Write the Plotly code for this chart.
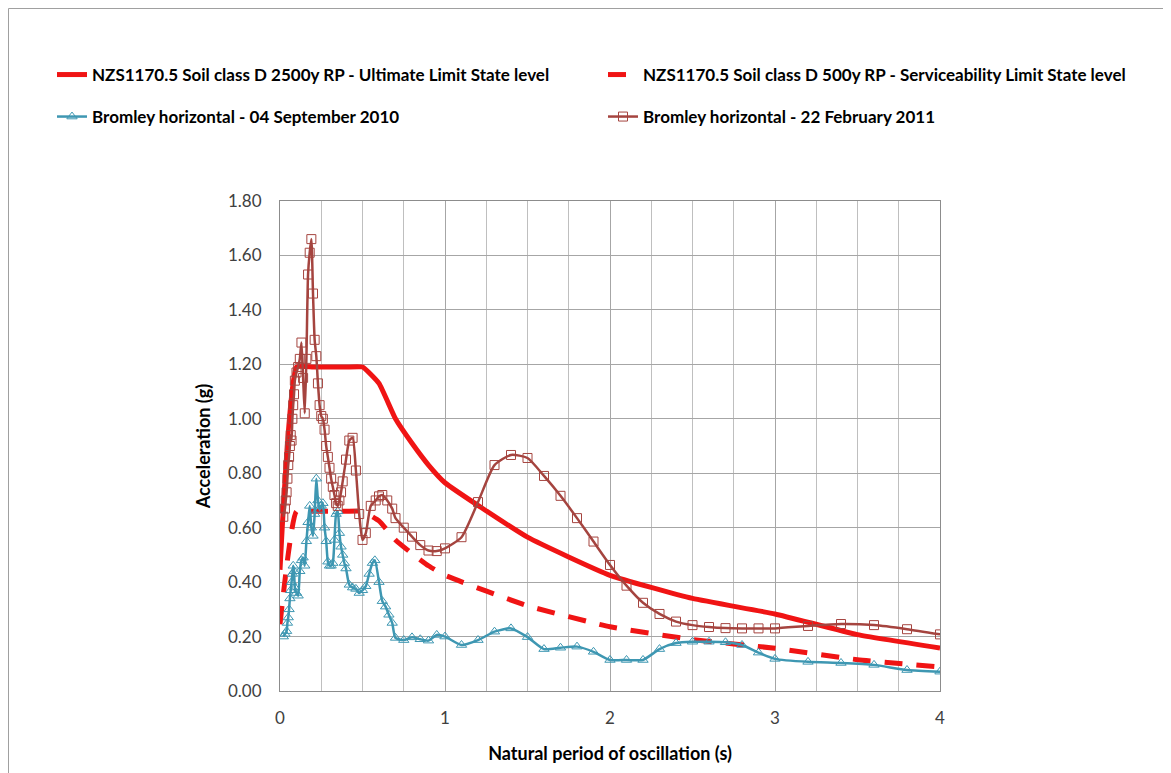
import plotly.graph_objects as go

# ---------------- data ----------------
uls_T = [0.0, 0.1, 0.2, 0.3, 0.4, 0.5, 0.6, 0.7, 0.8, 0.9, 1.0, 1.5, 2.0, 2.5, 3.0, 3.5, 4.0]
uls_A = [0.445, 1.19, 1.19, 1.19, 1.19, 1.19, 1.13, 1.00, 0.91, 0.83, 0.765, 0.565, 0.425, 0.34, 0.283, 0.207, 0.158]

sls_T = [0.0, 0.1, 0.2, 0.3, 0.4, 0.5, 0.6, 0.7, 0.8, 0.9, 1.0, 1.5, 2.0, 2.5, 3.0, 3.5, 4.0]
sls_A = [0.245, 0.66, 0.66, 0.66, 0.66, 0.66, 0.625, 0.555, 0.505, 0.46, 0.425, 0.313, 0.236, 0.189, 0.157, 0.115, 0.088]

sep_T = [0.02, 0.03, 0.04, 0.045, 0.05, 0.055, 0.06, 0.065, 0.07, 0.075, 0.08, 0.085, 0.09,
         0.10, 0.11, 0.12, 0.13, 0.14, 0.15, 0.16, 0.17, 0.18, 0.19, 0.20, 0.21, 0.22, 0.23,
         0.24, 0.25, 0.26, 0.27, 0.28, 0.29, 0.30, 0.31, 0.32, 0.33, 0.34, 0.35, 0.36, 0.37,
         0.38, 0.39, 0.40, 0.42, 0.44, 0.46, 0.48, 0.50, 0.52, 0.54, 0.56, 0.575, 0.60, 0.62,
         0.64, 0.66, 0.68, 0.70, 0.75, 0.80, 0.85, 0.90, 0.95, 1.00, 1.1, 1.2, 1.3, 1.4, 1.5,
         1.6, 1.7, 1.8, 1.9, 2.0, 2.1, 2.2, 2.3, 2.4, 2.5, 2.6, 2.7, 2.8, 2.9, 3.0, 3.2, 3.4,
         3.6, 3.8, 4.0]
sep_A = [0.20, 0.21, 0.22, 0.25, 0.27, 0.30, 0.34, 0.37, 0.40, 0.43, 0.46, 0.44, 0.38,
         0.36, 0.35, 0.44, 0.48, 0.49, 0.46, 0.55, 0.62, 0.68, 0.60, 0.57, 0.65, 0.78, 0.70,
         0.665, 0.68, 0.69, 0.60, 0.55, 0.475, 0.46, 0.46, 0.47, 0.555, 0.65, 0.66, 0.58, 0.53,
         0.50, 0.47, 0.45, 0.39, 0.38, 0.375, 0.36, 0.37, 0.385, 0.43, 0.47, 0.48, 0.40, 0.33,
         0.31, 0.28, 0.25, 0.195, 0.187, 0.197, 0.19, 0.185, 0.206, 0.20, 0.169, 0.187, 0.218, 0.23, 0.198,
         0.154, 0.159, 0.163, 0.144, 0.114, 0.114, 0.114, 0.154, 0.176, 0.181, 0.181, 0.179, 0.169, 0.141, 0.118, 0.107, 0.103,
         0.096, 0.077, 0.071]

feb_T = [0.02, 0.03, 0.035, 0.04, 0.045, 0.05, 0.055, 0.06, 0.065, 0.07, 0.075, 0.08, 0.085,
         0.09, 0.10, 0.11, 0.12, 0.13, 0.14, 0.15, 0.16, 0.17, 0.18, 0.19, 0.20, 0.21, 0.22,
         0.23, 0.24, 0.25, 0.26, 0.27, 0.28, 0.29, 0.30, 0.31, 0.32, 0.33, 0.34, 0.35, 0.36,
         0.37, 0.38, 0.40, 0.42, 0.44, 0.46, 0.48, 0.50, 0.52, 0.55, 0.58, 0.60, 0.62, 0.65,
         0.68, 0.70, 0.75, 0.80, 0.85, 0.90, 0.95, 1.00, 1.1, 1.2, 1.3, 1.4, 1.5, 1.6, 1.7,
         1.8, 1.9, 2.0, 2.1, 2.2, 2.3, 2.4, 2.5, 2.6, 2.7, 2.8, 2.9, 3.0, 3.2, 3.4, 3.6, 3.8, 4.0]
feb_A = [0.64, 0.67, 0.70, 0.73, 0.78, 0.83, 0.86, 0.90, 0.94, 0.92, 1.00, 1.05, 1.09,
         1.14, 1.17, 1.19, 1.22, 1.28, 1.15, 1.02, 1.22, 1.53, 1.61, 1.66, 1.46, 1.29, 1.23,
         1.13, 1.05, 1.01, 1.00, 0.96, 0.90, 0.86, 0.82, 0.78, 0.75, 0.72, 0.69, 0.68, 0.70,
         0.73, 0.77, 0.85, 0.92, 0.93, 0.81, 0.65, 0.555, 0.58, 0.68, 0.70, 0.715, 0.72, 0.70,
         0.67, 0.635, 0.60, 0.567, 0.536, 0.516, 0.514, 0.524, 0.565, 0.694, 0.83, 0.867, 0.856, 0.79, 0.717,
         0.635, 0.549, 0.463, 0.387, 0.324, 0.283, 0.255, 0.242, 0.235, 0.231, 0.23, 0.23, 0.23, 0.239, 0.246, 0.242, 0.227, 0.208]

x_ticks = [0, 1, 2, 3, 4]
y_ticks = [0.0, 0.2, 0.4, 0.6, 0.8, 1.0, 1.2, 1.4, 1.6, 1.8]

RED = "#F01414"
TEAL = "#3E97B2"
BROWN = "#A5443F"
FONT = "Lato"

W, H = 1163, 765
L, R, T, B = 272, 231, 193, 82

fig = go.Figure()
fig.add_trace(go.Scatter(x=uls_T, y=uls_A, mode="lines",
                         name="NZS1170.5 Soil class D 2500y RP - Ultimate Limit State level",
                         line=dict(color=RED, width=5, shape="spline", smoothing=0.4),
                         legend="legend", showlegend=True))
fig.add_trace(go.Scatter(x=sls_T, y=sls_A, mode="lines",
                         name="NZS1170.5 Soil class D 500y RP - Serviceability Limit State level",
                         line=dict(color=RED, width=5, dash="18px,14px", shape="spline", smoothing=0.4),
                         legend="legend2", showlegend=True))
fig.add_trace(go.Scatter(x=sep_T, y=sep_A, mode="lines+markers",
                         name="Bromley horizontal - 04 September 2010",
                         line=dict(color=TEAL, width=2.5, shape="spline", smoothing=0.6),
                         marker=dict(symbol="triangle-up-open", size=9, color=TEAL,
                                     line=dict(width=1, color=TEAL)),
                         legend="legend3", showlegend=True))
fig.add_trace(go.Scatter(x=feb_T, y=feb_A, mode="lines+markers",
                         name="Bromley horizontal - 22 February 2011",
                         line=dict(color=BROWN, width=2.5, shape="spline", smoothing=0.6),
                         marker=dict(symbol="square-open", size=9, color=BROWN,
                                     line=dict(width=1, color=BROWN)),
                         legend="legend4", showlegend=True))


def leg(xpx, ypx):
    return dict(orientation="h", xref="container", yref="container",
                x=xpx / W, xanchor="left", y=1 - ypx / H, yanchor="middle",
                font=dict(family=FONT, size=17, color="#000000", weight="bold"),
                bgcolor="rgba(0,0,0,0)", borderwidth=0)


fig.update_layout(
    width=W, height=H,
    showlegend=True,
    paper_bgcolor="white", plot_bgcolor="white",
    margin=dict(l=L, r=R, t=T, b=B, autoexpand=False),
    font=dict(family=FONT, size=14, color="#404040"),
    legend=leg(44, 67),
    legend2=leg(595, 67),
    legend3=leg(44, 109),
    legend4=leg(595, 109),
    xaxis=dict(range=[0, 4], tickvals=x_ticks, ticktext=[str(v) for v in x_ticks],
               showgrid=True, gridcolor="#A6A6A6", gridwidth=1,
               minor=dict(dtick=0.25, showgrid=True, gridcolor="#BFBFBF", gridwidth=1),
               showline=True, linecolor="#8C8C8C", linewidth=1, mirror=True,
               ticks="outside", ticklen=12, tickcolor="rgba(0,0,0,0)", zeroline=False,
               tickfont=dict(family=FONT, size=17, color="#404040"),
               title=dict(text="<b>Natural period of oscillation (s)</b>",
                          font=dict(family=FONT, size=18, color="#000000"), standoff=19)),
    yaxis=dict(range=[0, 1.8], tickvals=y_ticks, ticktext=[f"{v:.2f}" for v in y_ticks],
               showgrid=True, gridcolor="#A6A6A6", gridwidth=1,
               showline=True, linecolor="#8C8C8C", linewidth=1, mirror=True,
               ticks="outside", ticklen=14, tickcolor="rgba(0,0,0,0)", zeroline=False,
               tickfont=dict(family=FONT, size=17, color="#404040"),
               title=dict(text="<b>Acceleration (g)</b>",
                          font=dict(family=FONT, size=18, color="#000000"), standoff=12)),
)

# outer chart frame
fig.add_shape(type="rect", xref="paper", yref="paper",
              x0=(0.5 - L) / 660, x1=(1156 - L) / 660,
              y0=(H - B - 820) / 490, y1=(H - B - 0.5) / 490,
              line=dict(color="#A0A0A0", width=1), layer="below")

fig.write_html("out.html")
